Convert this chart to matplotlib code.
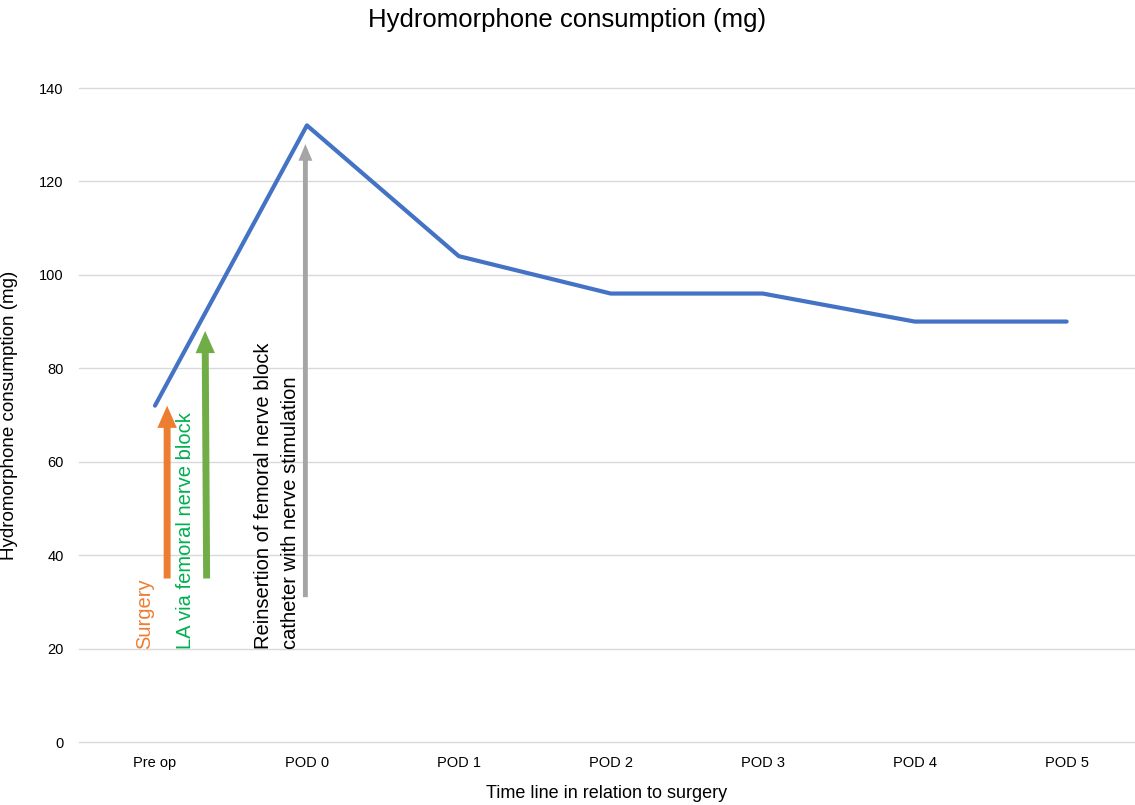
import matplotlib.pyplot as plt

# Data
time_points = ["Pre op", "POD 0", "POD 1", "POD 2", "POD 3", "POD 4", "POD 5"]
hydromorphone_mg = [72, 132, 104, 96, 96, 90, 90]
y_ticks = [0, 20, 40, 60, 80, 100, 120, 140]

# Event arrows (x position in category units, start value, end value)
event_labels = ["Surgery", "LA via femoral nerve block",
                "Reinsertion of femoral nerve block\ncatheter with nerve stimulation"]
arrow_x = [0.08, 0.34, 0.99]
arrow_x_top = [0.08, 0.33, 0.99]
arrow_start = [35, 35, 31]
arrow_end = [72, 88, 128]
label_x = [-0.07, 0.20, 0.805]
label_y = [20, 20, 20]

plt.rcParams['font.family'] = ['Liberation Sans', 'DejaVu Sans']

fig = plt.figure(figsize=(11.35, 8.05), dpi=100)
ax = fig.add_axes([79 / 1135, 63 / 805, (1135 - 79) / 1135, 654 / 805])

x = list(range(len(time_points)))
ax.plot(x, hydromorphone_mg, color='#4472C4', linewidth=3, solid_capstyle='round', zorder=3)

ax.set_xlim(-0.5, 6.45)
ax.set_ylim(0, 140)
ax.set_yticks(y_ticks)
ax.set_xticks(x)
ax.set_xticklabels(time_points)
ax.tick_params(axis='both', length=0, labelsize=10.5, colors='#000000')
ax.tick_params(axis='y', pad=11)
ax.tick_params(axis='x', pad=10)
ax.grid(axis='y', color='#D9D9D9', linewidth=1)
for gl in ax.get_ygridlines():
    gl.set_clip_on(False)
ax.set_axisbelow(True)
for s in ax.spines.values():
    s.set_visible(False)

ax.set_ylabel("Hydromorphone consumption (mg)", fontsize=13.5)
ax.yaxis.set_label_coords(-0.058, 0.5)
ax.set_xlabel("Time line in relation to surgery", fontsize=13, labelpad=11)
fig.suptitle("Hydromorphone consumption (mg)", fontsize=18.5, y=0.99)

arrow_colors = ['#ED7D31', '#70AD47', '#A5A5A5']
text_colors = ['#ED7D31', '#00B050', '#000000']
for i in range(len(event_labels)):
    ax.annotate("", xy=(arrow_x_top[i], arrow_end[i]), xytext=(arrow_x[i], arrow_start[i]),
                arrowprops=dict(facecolor=arrow_colors[i], edgecolor='none',
                                width=5 if i < 2 else 3.5, headwidth=14 if i < 2 else 10,
                                headlength=16 if i < 2 else 12, shrink=0),
                zorder=4)
    ax.text(label_x[i], label_y[i], event_labels[i], rotation=90, color=text_colors[i],
            fontsize=14.5, ha='center', va='bottom', multialignment='left',
            linespacing=1.55, zorder=4)

fig.savefig("out.png", dpi=100)
